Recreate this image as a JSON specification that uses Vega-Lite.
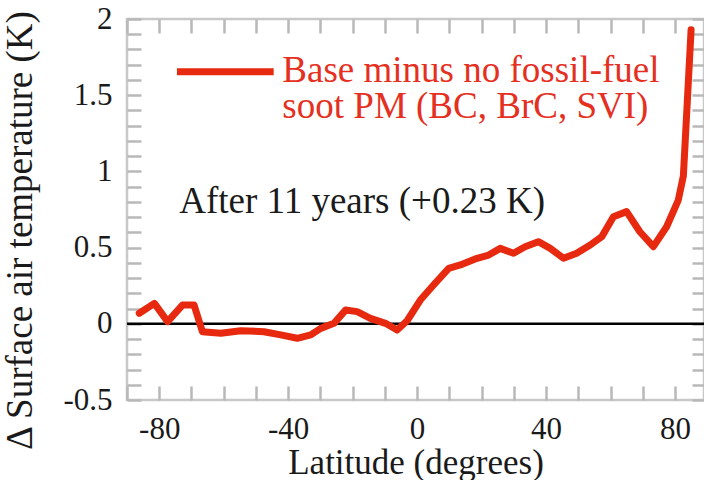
{
  "$schema": "https://vega.github.io/schema/vega-lite/v6.json",
  "width": 577,
  "height": 381,
  "autosize": "none",
  "padding": {"left": 127, "top": 19, "right": 0, "bottom": 80},
  "background": "white",
  "config": {
    "view": {"stroke": "#c8c8c8", "strokeWidth": 2.5},
    "font": "Liberation Serif",
    "axis": {
      "domain": false,
      "grid": false,
      "ticks": true,
      "tickColor": "#b8b8b8",
      "tickWidth": 2.5,
      "labelFont": "Liberation Serif",
      "labelFontSize": 31,
      "labelColor": "#1a1a1a",
      "titleFont": "Liberation Serif",
      "titleFontSize": 37,
      "titleFontWeight": "normal",
      "titleColor": "#1a1a1a"
    }
  },
  "datasets": {
    "curve": [
      {"lat": -86.2, "val": 0.069},
      {"lat": -81.5, "val": 0.134},
      {"lat": -77.4, "val": 0.014},
      {"lat": -72.8, "val": 0.123},
      {"lat": -69.2, "val": 0.123},
      {"lat": -66.6, "val": -0.052},
      {"lat": -60.9, "val": -0.062},
      {"lat": -54.7, "val": -0.045},
      {"lat": -47.5, "val": -0.052},
      {"lat": -42.3, "val": -0.073},
      {"lat": -37.2, "val": -0.095},
      {"lat": -33.0, "val": -0.073},
      {"lat": -29.9, "val": -0.03},
      {"lat": -25.8, "val": 0.003},
      {"lat": -22.2, "val": 0.09},
      {"lat": -18.6, "val": 0.08},
      {"lat": -14.5, "val": 0.036},
      {"lat": -9.8, "val": 0.003},
      {"lat": -6.2, "val": -0.041},
      {"lat": -3.1, "val": 0.02},
      {"lat": 1.0, "val": 0.156},
      {"lat": 5.1, "val": 0.255},
      {"lat": 9.8, "val": 0.364},
      {"lat": 13.4, "val": 0.386},
      {"lat": 18.6, "val": 0.43},
      {"lat": 22.2, "val": 0.451},
      {"lat": 25.8, "val": 0.495},
      {"lat": 29.9, "val": 0.463},
      {"lat": 33.5, "val": 0.506},
      {"lat": 37.6, "val": 0.539},
      {"lat": 41.3, "val": 0.495},
      {"lat": 45.4, "val": 0.43},
      {"lat": 49.5, "val": 0.463},
      {"lat": 53.7, "val": 0.517},
      {"lat": 57.3, "val": 0.572},
      {"lat": 60.9, "val": 0.703},
      {"lat": 65.0, "val": 0.736},
      {"lat": 69.1, "val": 0.604},
      {"lat": 73.3, "val": 0.506},
      {"lat": 77.4, "val": 0.637},
      {"lat": 81.0, "val": 0.81},
      {"lat": 82.6, "val": 0.97},
      {"lat": 83.8, "val": 1.45},
      {"lat": 85.0, "val": 1.93}
    ],
    "legendline": [{"x1": -74.5, "x2": -44.5, "val": 1.654}],
    "legendtext": [
      {"lat": -41.8, "val": 1.587, "text": "Base minus no fossil-fuel"},
      {"lat": -41.8, "val": 1.348, "text": "soot PM (BC, BrC, SVI)"}
    ],
    "note": [{"lat": -73.8, "val": 0.725, "text": "After 11 years (+0.23 K)"}],
    "zero": [{"val": 0}]
  },
  "layer": [
    {
      "data": {"name": "zero"},
      "mark": {"type": "rule", "color": "black", "strokeWidth": 2.5},
      "encoding": {
        "y": {
          "field": "val", "type": "quantitative",
          "scale": {"domain": [-0.5, 2], "nice": false, "zero": false},
          "axis": {
            "orient": "left",
            "values": [-0.5, -0.4, -0.3, -0.2, -0.1, 0, 0.1, 0.2, 0.3, 0.4, 0.5, 0.6, 0.7, 0.8, 0.9, 1, 1.1, 1.2, 1.3, 1.4, 1.5, 1.6, 1.7, 1.8, 1.9, 2],
            "labelExpr": "round(datum.value * 2) === datum.value * 2 ? toString(datum.value) : ''",
            "tickSize": -14,
            "encode": {"ticks": {"update": {"x2": {"signal": "round(datum.value * 2) === datum.value * 2 ? 14 : 7"}}}},
            "labelPadding": 29,
            "title": "Δ Surface air temperature (K)",
            "titlePadding": 23,
            "titleY": 211
          }
        }
      }
    },
    {
      "data": {"name": "curve"},
      "mark": {"type": "line", "color": "#e6290f", "strokeWidth": 7, "strokeCap": "round", "strokeJoin": "round"},
      "encoding": {
        "x": {
          "field": "lat", "type": "quantitative",
          "scale": {"domain": [-90, 89], "nice": false, "zero": false},
          "axis": {
            "orient": "bottom",
            "values": [-90, -80, -70, -60, -50, -40, -30, -20, -10, 0, 10, 20, 30, 40, 50, 60, 70, 80],
            "labelExpr": "datum.value % 40 === 0 ? toString(datum.value) : ''",
            "tickSize": -14,
            "encode": {"ticks": {"update": {"y2": {"signal": "datum.value % 40 === 0 ? -14 : -7"}}}},
            "labelPadding": 28,
            "titleFontSize": 35,
            "title": "Latitude (degrees)",
            "titlePadding": 1
          }
        },
        "y": {
          "field": "val", "type": "quantitative",
          "scale": {"domain": [-0.5, 2], "nice": false, "zero": false},
          "axis": {
            "orient": "right",
            "values": [-0.5, -0.4, -0.3, -0.2, -0.1, 0, 0.1, 0.2, 0.3, 0.4, 0.5, 0.6, 0.7, 0.8, 0.9, 1, 1.1, 1.2, 1.3, 1.4, 1.5, 1.6, 1.7, 1.8, 1.9, 2],
            "labels": false,
            "tickSize": -12,
            "title": null
          }
        }
      }
    },
    {
      "data": {"name": "legendline"},
      "mark": {"type": "rule", "color": "#e6290f", "strokeWidth": 7},
      "encoding": {
        "x": {
          "field": "x1", "type": "quantitative",
          "scale": {"domain": [-90, 89], "nice": false, "zero": false},
          "axis": {
            "orient": "top",
            "values": [-90, -80, -70, -60, -50, -40, -30, -20, -10, 0, 10, 20, 30, 40, 50, 60, 70, 80],
            "labels": false,
            "tickSize": -14,
            "title": null
          }
        },
        "x2": {"field": "x2"},
        "y": {"field": "val", "type": "quantitative", "scale": {"domain": [-0.5, 2], "nice": false, "zero": false}, "axis": null}
      }
    },
    {
      "data": {"name": "legendtext"},
      "mark": {"type": "text", "color": "#e5301f", "font": "Liberation Serif", "fontSize": 37, "align": "left", "baseline": "alphabetic"},
      "encoding": {
        "x": {"field": "lat", "type": "quantitative", "scale": {"domain": [-90, 89], "nice": false, "zero": false}, "axis": null},
        "y": {"field": "val", "type": "quantitative", "scale": {"domain": [-0.5, 2], "nice": false, "zero": false}, "axis": null},
        "text": {"field": "text"}
      }
    },
    {
      "data": {"name": "note"},
      "mark": {"type": "text", "color": "#1a1a1a", "font": "Liberation Serif", "fontSize": 37, "align": "left", "baseline": "alphabetic"},
      "encoding": {
        "x": {"field": "lat", "type": "quantitative", "scale": {"domain": [-90, 89], "nice": false, "zero": false}, "axis": null},
        "y": {"field": "val", "type": "quantitative", "scale": {"domain": [-0.5, 2], "nice": false, "zero": false}, "axis": null},
        "text": {"field": "text"}
      }
    }
  ],
  "resolve": {"scale": {"x": "independent", "y": "independent"}, "axis": {"x": "independent", "y": "independent"}}
}
